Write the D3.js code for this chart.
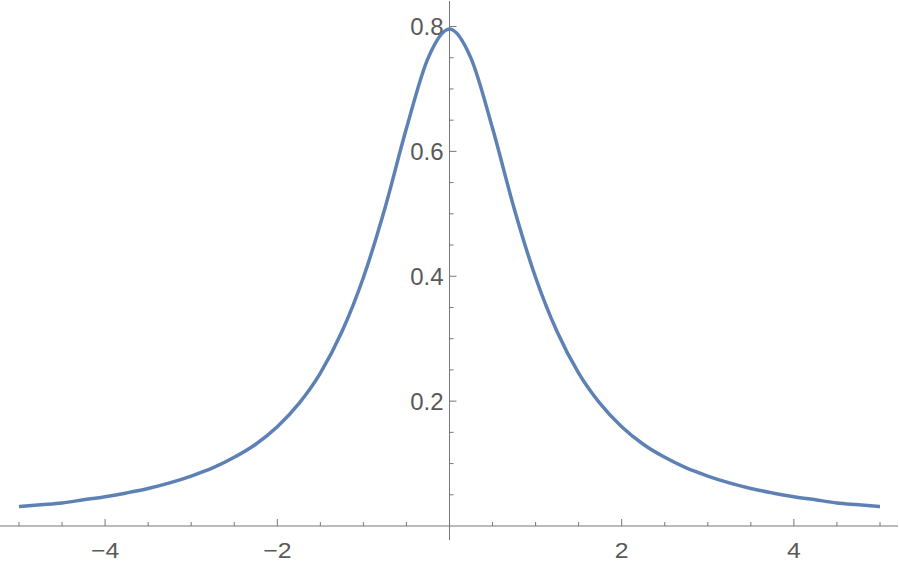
<!DOCTYPE html>
<html>
<head>
<meta charset="utf-8">
<script src="https://cdn.jsdelivr.net/npm/d3@7"></script>
<style>
  body { margin: 0; background: #fff; }
  svg text { font-family: "Liberation Sans", Arial, sans-serif; }
</style>
</head>
<body>
<div class="svg-container"></div>
<script>
// curve values (x step 0.25)
var xs = d3.range(-20, 21).map(function(i){ return i / 4; });
var halfValues = [0.796, 0.749, 0.637, 0.509, 0.398, 0.311, 0.245, 0.196, 0.159,
                  0.131, 0.110, 0.093, 0.080, 0.069, 0.060, 0.053, 0.047, 0.042,
                  0.037, 0.034, 0.031];
var ys = halfValues.slice(1).reverse().concat(halfValues);

var xMajor = [-4, -2, 2, 4];
var xMajorLabels = ["\u22124", "\u22122", "2", "4"];
var xMinor = [-5, -4.5, -3.5, -3, -2.5, -1.5, -1, -0.5, 0.5, 1, 1.5, 2.5, 3, 3.5, 4.5, 5];
var yMajor = [0.2, 0.4, 0.6, 0.8];
var yMajorLabels = ["0.2", "0.4", "0.6", "0.8"];
var yMinor = [0.05, 0.1, 0.15, 0.25, 0.3, 0.35, 0.45, 0.5, 0.55, 0.65, 0.7, 0.75];

var width = 900, height = 566;
var axisColor = "#777", labelColor = "#595959";

var x = d3.scaleLinear().domain([-5, 5]).range([19, 880]);
var y = d3.scaleLinear().domain([0, 0.8]).range([526, 26.5]);

var svg = d3.select(".svg-container").append("svg")
  .attr("width", width)
  .attr("height", height);

// axes lines
svg.append("line")
  .attr("x1", 0).attr("x2", 898)
  .attr("y1", y(0)).attr("y2", y(0))
  .attr("stroke", axisColor).attr("stroke-width", 1);
svg.append("line")
  .attr("x1", x(0)).attr("x2", x(0))
  .attr("y1", 1).attr("y2", 540)
  .attr("stroke", axisColor).attr("stroke-width", 1);

// x ticks (pointing up)
svg.append("g").selectAll("line").data(xMajor).enter().append("line")
  .attr("x1", function(d){ return x(d); }).attr("x2", function(d){ return x(d); })
  .attr("y1", y(0)).attr("y2", y(0) - 7)
  .attr("stroke", axisColor);
svg.append("g").selectAll("line").data(xMinor).enter().append("line")
  .attr("x1", function(d){ return x(d); }).attr("x2", function(d){ return x(d); })
  .attr("y1", y(0)).attr("y2", y(0) - 4)
  .attr("stroke", axisColor);
svg.append("g").selectAll("text").data(xMajor).enter().append("text")
  .attr("transform", function(d){ return "translate(" + x(d) + ",557.5) scale(1.15,1)"; })
  .attr("text-anchor", "middle")
  .attr("font-size", 21.5)
  .attr("fill", labelColor)
  .text(function(d, i){ return xMajorLabels[i]; });

// y ticks (pointing right)
svg.append("g").selectAll("line").data(yMajor).enter().append("line")
  .attr("x1", x(0)).attr("x2", x(0) + 7)
  .attr("y1", function(d){ return y(d); }).attr("y2", function(d){ return y(d); })
  .attr("stroke", axisColor);
svg.append("g").selectAll("line").data(yMinor).enter().append("line")
  .attr("x1", x(0)).attr("x2", x(0) + 4)
  .attr("y1", function(d){ return y(d); }).attr("y2", function(d){ return y(d); })
  .attr("stroke", axisColor);
svg.append("g").selectAll("text").data(yMajor).enter().append("text")
  .attr("x", x(0) - 6)
  .attr("y", function(d){ return y(d) + 8.5; })
  .attr("text-anchor", "end")
  .attr("font-size", 24)
  .attr("fill", labelColor)
  .text(function(d, i){ return yMajorLabels[i]; });

// the curve
var line = d3.line()
  .x(function(d){ return x(d[0]); })
  .y(function(d){ return y(d[1]); })
  .curve(d3.curveMonotoneX);

svg.append("path")
  .datum(xs.map(function(v, i){ return [v, ys[i]]; }))
  .attr("d", line)
  .attr("fill", "none")
  .attr("stroke", "#5E81B5")
  .attr("stroke-width", 3.5)
  .attr("stroke-linejoin", "round");
</script>
</body>
</html>
